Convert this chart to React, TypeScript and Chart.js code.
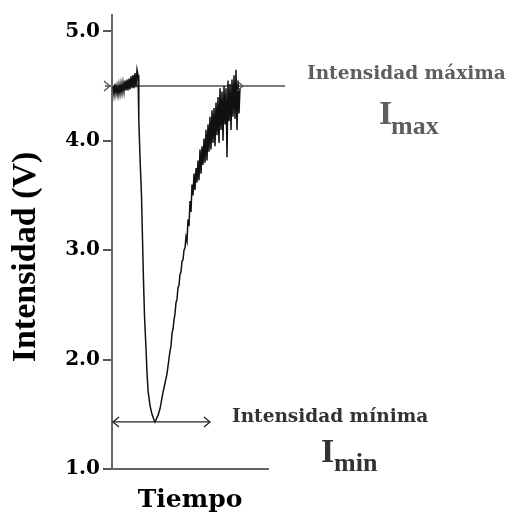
import React, { useEffect, useRef } from "react";
import { Chart, registerables } from "chart.js";

Chart.register(...registerables);

// Time (arbitrary units, axis 0..156) and intensity (V) of the recorded trace
const curveTime = [
  1, 2, 3, 4, 5, 6, 7, 8, 9, 10, 11, 12, 13, 14, 15, 16, 17, 18, 19, 20, 21, 22, 23, 24, 25, 26,
  26.8, 28, 29.5, 30.5, 31.5, 32.5, 34, 35, 36, 38, 40, 42, 43, 44, 46, 48, 51, 55, 58,
  59, 60, 61, 62, 63, 64, 65, 66, 67, 68, 69, 70, 71, 72, 73, 74, 75, 76, 77, 78, 79, 80,
  81, 82, 83, 84, 85, 86, 87, 88, 89, 90, 91, 92, 93, 94, 95, 96, 97, 98, 99, 100, 101,
  102, 103, 104, 105, 106, 107, 108, 109, 110, 111, 112, 113, 114, 115, 116, 117, 118,
  119, 120, 121, 122, 123, 124, 125, 126, 127, 128,
];
const curveIntensity = [
  4.5, 4.42, 4.52, 4.43, 4.5, 4.42, 4.51, 4.43, 4.52, 4.44, 4.53, 4.45, 4.55, 4.46, 4.56, 4.46,
  4.57, 4.47, 4.59, 4.48, 4.6, 4.48, 4.62, 4.49, 4.65, 4.6,
  4.2, 3.85, 3.5, 3.1, 2.72, 2.4, 2.1, 1.88, 1.72, 1.58, 1.5, 1.45, 1.43, 1.45, 1.49, 1.55, 1.7,
  1.87, 2.08,
  2.12, 2.24, 2.28, 2.36, 2.42, 2.52, 2.55, 2.66, 2.68, 2.78, 2.8, 2.9, 2.91, 3.0, 3.02, 3.12,
  3.08, 3.28, 3.22, 3.45, 3.35, 3.6, 3.5, 3.7, 3.55, 3.75, 3.62, 3.82, 3.64, 3.92, 3.7, 3.95,
  3.78, 4.02, 3.8, 4.1, 3.82, 4.15, 3.9, 4.22, 3.92, 4.28, 3.98, 4.3, 3.95, 4.35, 4.05, 4.4,
  3.98, 4.48, 4.1, 4.45, 4.0, 4.5, 4.15, 4.48, 3.85, 4.55, 4.18, 4.52, 4.1, 4.56, 4.22, 4.6,
  4.2, 4.65, 4.1, 4.55, 4.25, 4.48,
];

const yTicks = [1, 2, 3, 4, 5];
const xRange = [0, 156];
const yRange = [1, 5.15];

// Reference lines (Imax / Imin) and their arrow heads
const imaxTime = [-7, 173];
const imaxValue = 4.5;
const iminTime = [1, 98];
const iminValue = 1.43;
const arrowTime = [-2, 131, 1, 98];
const arrowValue = [4.5, 4.5, 1.43, 1.43];
const arrowDir = [1, 1, -1, 1];

const yTitle = "Intensidad (V)";
const xTitle = "Tiempo";
const maxLabel = "Intensidad máxima";
const minLabel = "Intensidad mínima";

const annotationPlugin = {
  id: "annotations",
  afterDraw(chart: any) {
    const { ctx, scales } = chart;
    const xs = scales.x;
    const ys = scales.y;
    ctx.save();
    // arrow heads
    arrowTime.forEach((t, i) => {
      const px = xs.getPixelForValue(t);
      const py = ys.getPixelForValue(arrowValue[i]);
      const d = arrowDir[i];
      ctx.strokeStyle = i < 2 ? "#555" : "#222";
      ctx.lineWidth = 1.3;
      ctx.beginPath();
      ctx.moveTo(px - d * 6, py - 5);
      ctx.lineTo(px, py);
      ctx.lineTo(px - d * 6, py + 5);
      ctx.stroke();
    });

    // y axis title
    ctx.save();
    ctx.translate(26, 257);
    ctx.rotate(-Math.PI / 2);
    ctx.font = 'bold 34px "Liberation Serif"';
    ctx.fillStyle = "#000";
    ctx.textAlign = "center";
    ctx.textBaseline = "middle";
    ctx.fillText(yTitle, 0, 0);
    ctx.restore();

    ctx.textAlign = "left";
    ctx.textBaseline = "alphabetic";
    // Imax labels
    ctx.fillStyle = "#5e5e5e";
    ctx.font = 'bold 18.5px "DejaVu Serif"';
    ctx.fillText(maxLabel, 307, 79);
    ctx.font = 'bold 34px "Liberation Serif"';
    ctx.fillText("I", 379, 124);
    ctx.font = 'bold 26px "Liberation Serif"';
    ctx.fillText("max", 391, 134);

    // Imin labels
    ctx.fillStyle = "#333";
    ctx.font = 'bold 18.5px "DejaVu Serif"';
    ctx.fillText(minLabel, 232, 422);
    ctx.font = 'bold 34px "Liberation Serif"';
    ctx.fillText("I", 321, 462);
    ctx.font = 'bold 26px "Liberation Serif"';
    ctx.fillText("min", 334, 471);
    ctx.restore();
  },
};

export default function App() {
  const ref = useRef<HTMLCanvasElement>(null);
  useEffect(() => {
    if (!ref.current) return;
    const chart = new Chart(ref.current, {
      type: "line",
      data: {
        datasets: [
          {
            data: curveTime.map((t, i) => ({ x: t, y: curveIntensity[i] })),
            borderColor: "#111",
            borderWidth: 1.5,
            pointRadius: 0,
            tension: 0,
          },
          {
            data: imaxTime.map((t) => ({ x: t, y: imaxValue })),
            borderColor: "#7a7a7a",
            borderWidth: 2,
            pointRadius: 0,
            clip: false as any,
          },
          {
            data: iminTime.map((t) => ({ x: t, y: iminValue })),
            borderColor: "#222",
            borderWidth: 1.3,
            pointRadius: 0,
            clip: false as any,
          },
        ],
      },
      options: {
        animation: false,
        responsive: true,
        maintainAspectRatio: false,
        layout: { padding: { left: 0, top: 13, right: 248, bottom: 0 } },
        plugins: { legend: { display: false }, tooltip: { enabled: false } },
        scales: {
          x: {
            type: "linear",
            min: xRange[0],
            max: xRange[1],
            ticks: { display: false },
            grid: { display: false },
            border: { display: true, color: "#666", width: 2 },
            title: {
              display: true,
              text: xTitle,
              color: "#000",
              font: { family: "DejaVu Serif", size: 25, weight: "bold" },
              padding: { top: 0, bottom: 2 },
            },
            afterFit: (s: any) => {
              s.height = 48;
            },
          },
          y: {
            type: "linear",
            min: yRange[0],
            max: yRange[1],
            afterBuildTicks: (s: any) => {
              s.ticks = yTicks.map((v) => ({ value: v }));
            },
            ticks: {
              color: "#000",
              padding: 3,
              font: { family: "DejaVu Serif", size: 20, weight: "bold" },
              callback: (v: any) => Number(v).toFixed(1),
            },
            grid: {
              display: true,
              drawOnChartArea: false,
              drawTicks: true,
              tickLength: 9,
              color: "#555",
              lineWidth: 2,
            },
            border: { display: true, color: "#666", width: 2 },
            afterFit: (s: any) => {
              s.width = 112;
            },
          },
        },
      },
      plugins: [annotationPlugin],
    });
    return () => chart.destroy();
  }, []);
  return (
    <div style={{ position: "fixed", left: 0, top: 0, width: 516, height: 517, background: "#fff" }}>
      <canvas ref={ref} />
    </div>
  );
}
